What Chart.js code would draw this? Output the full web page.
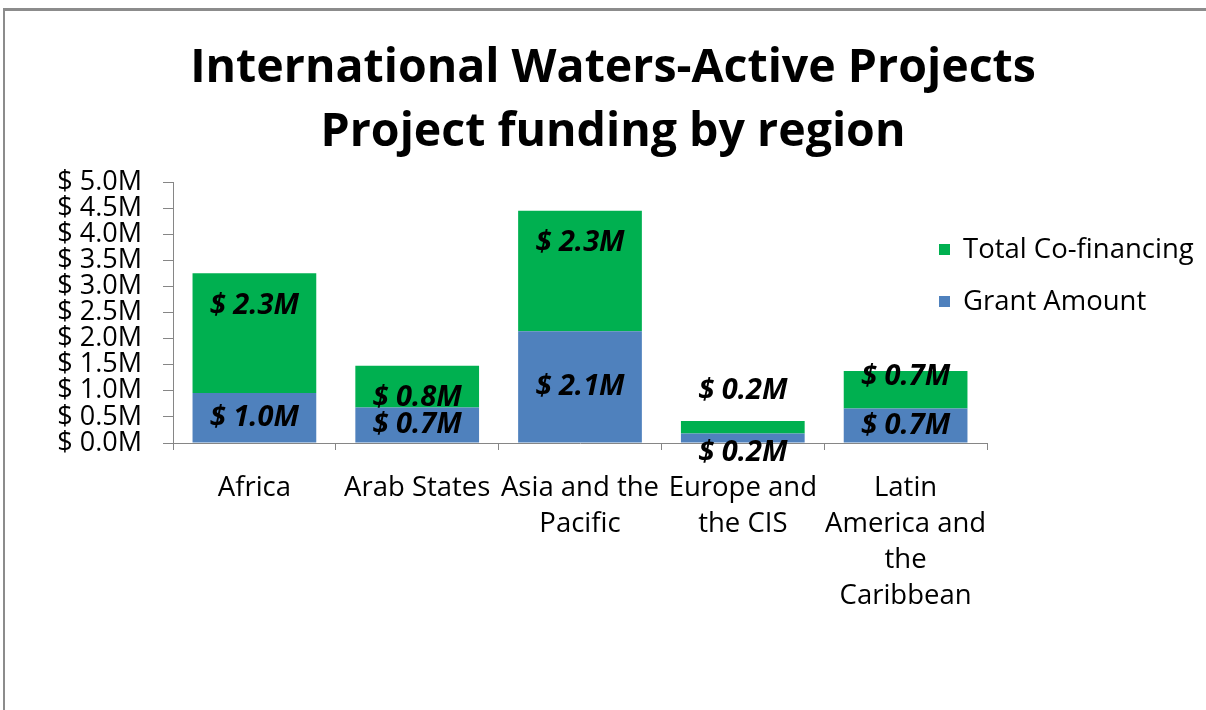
<!DOCTYPE html>
<html>
<head>
<meta charset="utf-8">
<script src="https://cdn.jsdelivr.net/npm/chart.js@4.4.0/dist/chart.umd.min.js"></script>
<style>
  html, body { margin: 0; padding: 0; background: #fff; }
  #wrap { position: relative; width: 1206px; height: 710px; overflow: hidden; }
  #frame { position: absolute; left: 3px; top: 8px; width: 1230px; height: 730px;
           border-top: 3px solid #8c8c8c; border-left: 2px solid #8c8c8c; }
  canvas { position: absolute; left: 0; top: 0; }
</style>
</head>
<body>
<div id="wrap">
  <canvas id="chart" width="1206" height="710"></canvas>
  <div id="frame"></div>
</div>
<script>
// regions (multi-line labels as arrays)
const regions = [
  'Africa',
  'Arab States',
  ['Asia and the', 'Pacific'],
  ['Europe and', 'the CIS'],
  ['Latin', 'America and', 'the', 'Caribbean']
]

// values in $ millions
const grantAmount = [0.96, 0.68, 2.14, 0.18, 0.66]
const coFinancing = [2.29, 0.80, 2.31, 0.24, 0.72]

const seriesNames = ['Grant Amount', 'Total Co-financing']
const seriesColors = ['#4f81bd', '#00b050']

const titleLines = ['International Waters-Active Projects', 'Project funding by region']

const FONT = "'Open Sans', 'DejaVu Sans', sans-serif"

const money = v => '$ ' + Number(v).toFixed(1) + 'M'

// label nudges (px) so the data labels sit where they were placed in the original
const labelNudge = [
  [0, 0, 0, 15, 0],
  [-27, 11, -28, -37, -13]
]

const dataLabels = {
  id: 'dataLabels',
  afterDatasetsDraw(chart) {
    const ctx = chart.ctx
    ctx.save()
    ctx.font = "italic bold 29px " + FONT
    ctx.fillStyle = '#000'
    ctx.textAlign = 'center'
    ctx.textBaseline = 'middle'
    chart.data.datasets.forEach((ds, di) => {
      chart.getDatasetMeta(di).data.forEach((bar, i) => {
        const y = (bar.y + bar.base) / 2 + labelNudge[di][i]
        ctx.fillText(money(ds.data[i]), bar.x, y)
      })
    })
    ctx.restore()
  }
}

const sideLegend = {
  id: 'sideLegend',
  afterDraw(chart) {
    const ctx = chart.ctx
    const rows = [250, 302]
    ctx.save()
    ctx.font = "27.5px " + FONT
    ctx.textBaseline = 'middle'
    ctx.textAlign = 'left'
    const items = chart.data.datasets.slice().reverse()
    items.forEach((ds, k) => {
      ctx.fillStyle = ds.backgroundColor
      ctx.fillRect(939, rows[k] - 6, 11, 11)
      ctx.fillStyle = '#000'
      ctx.fillText(ds.label, 963, rows[k])
    })
    ctx.restore()
  }
}

new Chart(document.getElementById('chart').getContext('2d'), {
  type: 'bar',
  data: {
    labels: regions,
    datasets: [
      { label: seriesNames[0], data: grantAmount, backgroundColor: seriesColors[0] },
      { label: seriesNames[1], data: coFinancing, backgroundColor: seriesColors[1] }
    ]
  },
  options: {
    responsive: false,
    animation: false,
    devicePixelRatio: 1,
    layout: { padding: { left: 20, right: 0, top: 0, bottom: 0 } },
    datasets: { bar: { barPercentage: 0.76, categoryPercentage: 1 } },
    scales: {
      x: {
        stacked: true,
        grid: { offset: true, drawOnChartArea: false, tickLength: 7, color: '#868686' },
        border: { color: '#868686' },
        ticks: {
          color: '#000',
          font: { family: FONT, size: 27.5, lineHeight: 36 / 27.5 },
          padding: 20,
          maxRotation: 0,
          autoSkip: false
        },
        afterFit: s => { s.height = 267 }
      },
      y: {
        stacked: true,
        min: 0,
        max: 5,
        grid: { drawOnChartArea: false, tickLength: 10, color: '#868686' },
        border: { color: '#868686' },
        ticks: {
          stepSize: 0.5,
          autoSkip: false,
          color: '#000',
          padding: 21,
          font: { family: FONT, size: 27 },
          callback: v => money(v)
        },
        afterFit: s => { s.width = 153 }
      },
      // empty spacer on the right, keeps room for the legend and the title centred
      spacer: {
        type: 'linear',
        position: 'right',
        display: true,
        grid: { display: false },
        border: { display: false },
        ticks: { display: false },
        afterFit: s => { s.width = 219 }
      }
    },
    plugins: {
      legend: { display: false },
      tooltip: { enabled: false },
      title: {
        display: true,
        text: titleLines,
        color: '#000',
        font: { family: FONT, size: 46.5, weight: 'bold', lineHeight: 64 / 46.5 },
        padding: { top: 37, bottom: 17 }
      }
    }
  },
  plugins: [dataLabels, sideLegend]
})
</script>
</body>
</html>
